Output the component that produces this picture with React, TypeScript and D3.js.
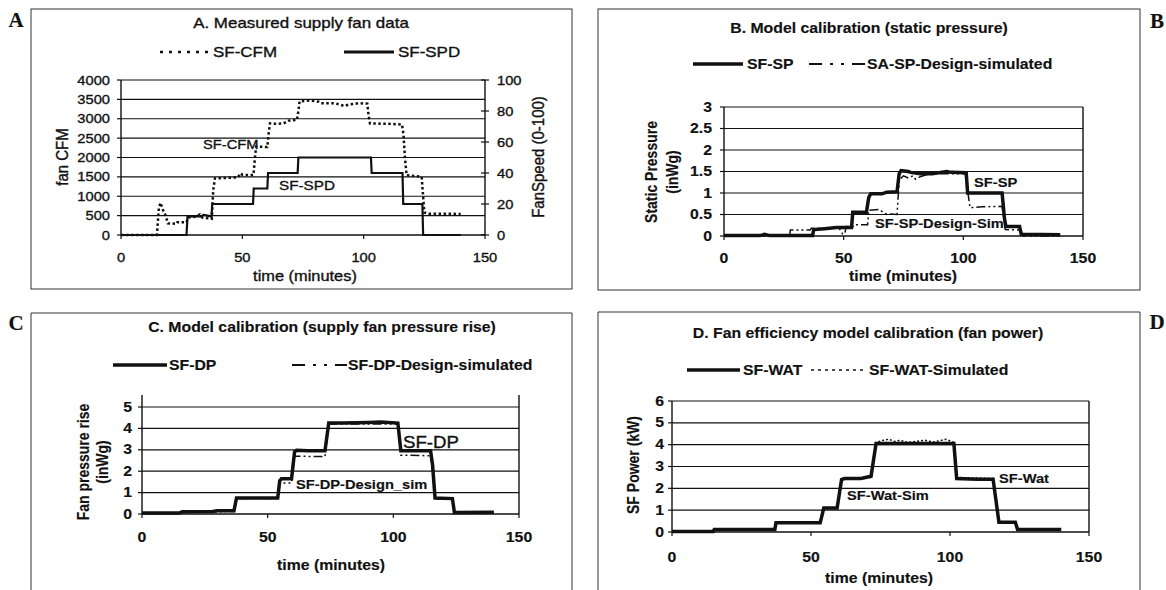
import React from 'react';
import * as d3 from 'd3';

const W = 1166;
const H = 590;
const FONT = 'Liberation Sans, Arial, sans-serif';

const xTicks = [0, 50, 100, 150];

// A. measured supply fan data
const cfmTicks = [0, 500, 1000, 1500, 2000, 2500, 3000, 3500, 4000];
const spdTicks = [0, 20, 40, 60, 80, 100];
const sfCfm: [number, number][] = [
  [0, 0], [14.8, 0], [15.6, 700], [16.3, 830], [17.2, 660], [18.3, 520], [19.3, 300], [23, 290],
  [23.3, 330], [27, 330], [27.6, 450], [31, 470], [32.5, 530], [33.5, 450], [37.4, 420], [38, 1150],
  [38.7, 1460], [43, 1470], [48.3, 1490], [49, 1590], [50.2, 1550], [54.6, 1550], [55.2, 2000],
  [55.7, 2280], [60.3, 2270], [60.8, 2600], [61.4, 2880], [64, 2870], [67, 2880], [69, 2950],
  [72.5, 2970], [73.1, 3200], [73.6, 3450], [78, 3470], [81.5, 3440], [82.5, 3400], [88, 3400],
  [90, 3370], [92, 3330], [94, 3370], [98, 3400], [101.5, 3390], [102, 3100], [102.6, 2880],
  [110, 2870], [115.8, 2850], [116.4, 2600], [117, 2000], [117.7, 1540], [121, 1520], [123.9, 1500],
  [124.5, 1000], [125, 580], [127, 550], [135, 550], [140, 540],
];
const sfSpd: [number, number][] = [
  [0, 0], [27, 0], [27.4, 12], [33, 12], [34, 13], [37.3, 12], [37.6, 20], [54.4, 20], [54.7, 30],
  [60.3, 30], [60.6, 40], [72.8, 40], [73.1, 50], [103, 50], [103.3, 40], [116, 40], [116.3, 20],
  [124.2, 20], [124.5, 0], [140, 0],
];

// B. static pressure
const spTicks = [0, 0.5, 1, 1.5, 2, 2.5, 3];
const sfSp: [number, number][] = [
  [0, 0.01], [15, 0.01], [17, 0.04], [19, 0.01], [37, 0.01], [37.5, 0.15], [42, 0.17], [47, 0.2],
  [53.3, 0.2], [53.8, 0.55], [59.5, 0.55], [60.5, 0.9], [61.3, 0.98], [66, 0.98], [68, 1.02],
  [72.3, 1.03], [73.2, 1.45], [74, 1.52], [77, 1.5], [78, 1.48], [82, 1.45], [87, 1.45], [93, 1.5],
  [95, 1.48], [101.2, 1.47], [101.8, 1.0], [110, 1.0], [116.2, 1.0], [117.2, 0.4], [117.8, 0.22],
  [123.5, 0.22], [124.2, 0.04], [140.5, 0.03],
];
const spSim: [number, number][] = [
  [0, 0], [27.5, 0], [27.7, 0.14], [36, 0.14], [36.5, 0.18], [48, 0.19], [49.5, 0.05], [50.5, 0.05],
  [51, 0.22], [54, 0.22], [54.5, 0.26], [60, 0.26], [60.5, 0.6], [65, 0.62], [67, 0.52], [72.3, 0.5],
  [73.2, 1.3], [75, 1.4], [77, 1.35], [79, 1.4], [80, 1.32], [82, 1.38], [86, 1.45], [100.8, 1.45],
  [102.8, 0.66], [108, 0.68], [116.2, 0.69], [117.5, 0.15], [124, 0.14], [125, 0], [140, 0],
];

// C. fan pressure rise
const dpTicks = [0, 1, 2, 3, 4, 5];
const sfDp: [number, number][] = [
  [0, 0.05], [15, 0.05], [16, 0.1], [28, 0.12], [30, 0.15], [36.6, 0.15], [37.6, 0.75], [54, 0.75],
  [54.8, 1.55], [55.5, 1.65], [59.5, 1.65], [60.7, 2.9], [61.5, 2.98], [66, 2.95], [72.8, 2.95],
  [74.3, 4.25], [80, 4.25], [90, 4.28], [95, 4.3], [101.8, 4.25], [103, 2.95], [110, 2.95],
  [114.8, 2.95], [115.6, 2.3], [116.6, 0.75], [123.5, 0.72], [124.3, 0.07], [140, 0.08],
];
const dpSim: [number, number][] = [
  [0, 0.03], [15, 0.03], [16, 0.08], [36.6, 0.12], [37.6, 0.72], [54, 0.72], [54.8, 1.45],
  [59.5, 1.45], [60.7, 2.7], [72.8, 2.68], [74.3, 4.2], [101.8, 4.2], [103, 2.75], [115, 2.72],
  [116.6, 0.7], [123.5, 0.7], [124.3, 0.05], [140, 0.05],
];

// D. fan power
const kwTicks = [0, 1, 2, 3, 4, 5, 6];
const sfWat: [number, number][] = [
  [0, 0.02], [14.8, 0.02], [15.2, 0.12], [37, 0.12], [37.4, 0.42], [53.3, 0.42], [54.6, 1.1],
  [59.4, 1.1], [61, 2.4], [62, 2.45], [68, 2.45], [71.6, 2.55], [73.4, 4.05], [101.4, 4.05],
  [102.4, 2.45], [110, 2.42], [115.5, 2.42], [117.6, 0.45], [123.5, 0.45], [124.3, 0.12], [140, 0.12],
];
const watSim: [number, number][] = [
  [0, 0.02], [14.8, 0.02], [15.2, 0.12], [37, 0.12], [37.4, 0.42], [53.3, 0.42], [54.6, 1.1],
  [59.4, 1.1], [61, 2.42], [71.6, 2.5], [73.4, 4.1], [76, 4.2], [78, 4.25], [80, 4.15], [82, 4.2],
  [85, 4.1], [88, 4.15], [91, 4.2], [94, 4.12], [97, 4.2], [98.5, 4.25], [101.4, 4.1], [102.4, 2.5],
  [115.5, 2.45], [117.6, 0.47], [123.5, 0.47], [124.3, 0.14], [140, 0.14],
];

const DASHDOT = '9,3,2,3,2,3';
const DASHDOT_KEY = '13,8,3,8,3,8';

// text looks horizontally stretched (and a bit heavy) in the scan
function Txt({ x, y, size = 13, anchor = 'start', weight = 'normal', rotate = false, sx = 1.13, family = FONT, children }: any) {
  const tr = rotate
    ? `translate(${x},${y}) scale(${sx},1) rotate(-90)`
    : `translate(${x},${y}) scale(${sx},1)`;
  return (
    <text transform={tr} fontSize={size} textAnchor={anchor} fontWeight={weight} fontFamily={family}
      fill="#111" stroke="#111" strokeWidth={weight === 'bold' ? 0.15 : 0.35}
      dominantBaseline={rotate ? 'central' : 'auto'}>
      {children}
    </text>
  );
}

function Axes({ x, y, yTicks, labelRight, xLabelY, size = 13, weight = 'normal', top }: any) {
  const [x0, x1] = x.range();
  const y0 = y(y.domain()[0]);
  const yTop = top ?? y.range()[1];
  return (
    <g>
      {yTicks.slice(1).map((t: number) => (
        <line key={'g' + t} x1={x0} x2={x1} y1={y(t)} y2={y(t)} stroke="#111" strokeWidth={1.2} />
      ))}
      <line x1={x0} x2={x0} y1={yTop} y2={y0} stroke="#111" strokeWidth={1.4} />
      <line x1={x1} x2={x1} y1={yTop} y2={y0} stroke="#111" strokeWidth={1.4} />
      <line x1={x0} x2={x1} y1={y0} y2={y0} stroke="#111" strokeWidth={1.7} />
      {yTicks.map((t: number) => (
        <g key={'y' + t}>
          <line x1={x0 - 4} x2={x0} y1={y(t)} y2={y(t)} stroke="#111" strokeWidth={1.2} />
          <Txt x={labelRight} y={y(t) + 4.5} anchor="end" size={size} weight={weight}>{t}</Txt>
        </g>
      ))}
      {xTicks.map((t) => (
        <g key={'x' + t}>
          <line x1={x(t)} x2={x(t)} y1={y0} y2={y0 + 4} stroke="#111" strokeWidth={1.2} />
          <Txt x={x(t)} y={xLabelY} anchor="middle" size={size} weight={weight}>{t}</Txt>
        </g>
      ))}
    </g>
  );
}

function pathOf(x: any, y: any, data: [number, number][]) {
  return d3.line<[number, number]>().x((d) => x(d[0])).y((d) => y(d[1]))(data) || '';
}

const SERIF = 'Liberation Serif, Times New Roman, serif';

function PanelA() {
  const x = d3.scaleLinear().domain([0, 150]).range([121, 485]);
  const y = d3.scaleLinear().domain([0, 4000]).range([235, 80]);
  const y2 = d3.scaleLinear().domain([0, 100]).range([235, 80]);
  return (
    <g>
      <rect x={31} y={9} width={541} height={280} fill="none" stroke="#333" strokeWidth={1} />
      <Txt x={16} y={27} size={21} weight="bold" sx={1} family={SERIF} anchor="middle">A</Txt>
      <Txt x={301} y={28} size={15} anchor="middle">A.  Measured supply fan data</Txt>
      <line x1={160} x2={210} y1={52} y2={52} stroke="#111" strokeWidth={2.5} strokeDasharray="3,6" />
      <Txt x={213} y={57} size={15}>SF-CFM</Txt>
      <line x1={344} x2={394} y1={52} y2={52} stroke="#111" strokeWidth={3} />
      <Txt x={398} y={57} size={15}>SF-SPD</Txt>
      <Axes x={x} y={y} yTicks={cfmTicks} labelRight={110} xLabelY={262} size={13} />
      {spdTicks.map((t) => (
        <g key={'r' + t}>
          <line x1={481} x2={489} y1={y2(t)} y2={y2(t)} stroke="#111" strokeWidth={1.2} />
          <Txt x={497} y={y2(t) + 4.5} size={13}>{t}</Txt>
        </g>
      ))}
      <path d={pathOf(x, y2, sfSpd)} fill="none" stroke="#111" strokeWidth={2.2} />
      <path d={pathOf(x, y, sfCfm)} fill="none" stroke="#111" strokeWidth={2.5} strokeDasharray="2.5,2.5" />
      <Txt x={203} y={149} size={13}>SF-CFM</Txt>
      <Txt x={279} y={190} size={13.5}>SF-SPD</Txt>
      <Txt x={305} y={281} size={14.5} anchor="middle">time (minutes)</Txt>
      <Txt x={62} y={157} size={15} rotate anchor="middle">fan CFM</Txt>
      <Txt x={538} y={157} size={15} rotate anchor="middle">FanSpeed (0-100)</Txt>
    </g>
  );
}

function PanelB() {
  const x = d3.scaleLinear().domain([0, 150]).range([724, 1083]);
  const y = d3.scaleLinear().domain([0, 3]).range([236, 107]);
  return (
    <g>
      <rect x={598} y={9} width={542} height={281} fill="none" stroke="#333" strokeWidth={1} />
      <Txt x={1157} y={28} size={21} weight="bold" sx={1} family={SERIF} anchor="middle">B</Txt>
      <Txt x={869} y={33} size={14} weight="bold" anchor="middle">B.  Model calibration (static pressure)</Txt>
      <line x1={693} x2={743} y1={64} y2={64} stroke="#111" strokeWidth={3.5} />
      <Txt x={747} y={69} size={14} weight="bold">SF-SP</Txt>
      <line x1={809} x2={866} y1={64} y2={64} stroke="#111" strokeWidth={1.8} strokeDasharray={DASHDOT_KEY} />
      <Txt x={867} y={69} size={14} weight="bold">SA-SP-Design-simulated</Txt>
      <Axes x={x} y={y} yTicks={spTicks} labelRight={712} xLabelY={263} size={14} weight="bold" />
      <path d={pathOf(x, y, spSim)} fill="none" stroke="#111" strokeWidth={1.5} strokeDasharray={DASHDOT} />
      <path d={pathOf(x, y, sfSp)} fill="none" stroke="#111" strokeWidth={3.5} />
      <Txt x={974} y={187} size={13} weight="bold">SF-SP</Txt>
      <Txt x={875} y={228} size={13} weight="bold">SF-SP-Design-Sim</Txt>
      <Txt x={903} y={281} size={14} weight="bold" anchor="middle">time (minutes)</Txt>
      <Txt x={651} y={172} size={14} weight="bold" rotate anchor="middle">Static Pressure</Txt>
      <Txt x={672} y={172} size={14} weight="bold" rotate anchor="middle">(inWg)</Txt>
    </g>
  );
}

function PanelC() {
  const x = d3.scaleLinear().domain([0, 150]).range([142, 519]);
  const y = d3.scaleLinear().domain([0, 5]).range([514, 407]);
  return (
    <g>
      <path d="M31,600 V313 H572 V600" fill="none" stroke="#333" strokeWidth={1} />
      <Txt x={16} y={330} size={21} weight="bold" sx={1} family={SERIF} anchor="middle">C</Txt>
      <Txt x={322} y={332} size={14} weight="bold" anchor="middle">C.  Model calibration (supply fan pressure rise)</Txt>
      <line x1={113} x2={167} y1={365} y2={365} stroke="#111" strokeWidth={3.5} />
      <Txt x={169} y={370} size={14} weight="bold">SF-DP</Txt>
      <line x1={292} x2={347} y1={365} y2={365} stroke="#111" strokeWidth={1.8} strokeDasharray={DASHDOT_KEY} />
      <Txt x={348} y={370} size={14} weight="bold">SF-DP-Design-simulated</Txt>
      <Axes x={x} y={y} yTicks={dpTicks} labelRight={132} xLabelY={542} size={14} weight="bold" top={395} />
      <path d={pathOf(x, y, dpSim)} fill="none" stroke="#111" strokeWidth={1.5} strokeDasharray={DASHDOT} />
      <path d={pathOf(x, y, sfDp)} fill="none" stroke="#111" strokeWidth={3.5} />
      <Txt x={403} y={448} size={16.5}>SF-DP</Txt>
      <Txt x={296} y={489} size={13} weight="bold">SF-DP-Design_sim</Txt>
      <Txt x={331} y={570} size={14} weight="bold" anchor="middle">time (minutes)</Txt>
      <Txt x={83} y={462} size={14} weight="bold" rotate anchor="middle">Fan pressure rise</Txt>
      <Txt x={102} y={462} size={14} weight="bold" rotate anchor="middle">(inWg)</Txt>
    </g>
  );
}

function PanelD() {
  const x = d3.scaleLinear().domain([0, 150]).range([672, 1089]);
  const y = d3.scaleLinear().domain([0, 6]).range([532, 401]);
  return (
    <g>
      <path d="M598,600 V312 H1140 V600" fill="none" stroke="#333" strokeWidth={1} />
      <Txt x={1157} y={329} size={21} weight="bold" sx={1} family={SERIF} anchor="middle">D</Txt>
      <Txt x={868} y={338} size={14} weight="bold" anchor="middle">D.  Fan efficiency model calibration (fan power)</Txt>
      <line x1={687} x2={740} y1={370} y2={370} stroke="#111" strokeWidth={3.5} />
      <Txt x={743} y={375} size={14} weight="bold">SF-WAT</Txt>
      <line x1={811} x2={865} y1={370} y2={370} stroke="#111" strokeWidth={1.5} strokeDasharray="3,4" />
      <Txt x={869} y={375} size={14} weight="bold">SF-WAT-Simulated</Txt>
      <Axes x={x} y={y} yTicks={kwTicks} labelRight={664} xLabelY={562} size={14} weight="bold" />
      <path d={pathOf(x, y, watSim)} fill="none" stroke="#111" strokeWidth={1.5} strokeDasharray="2,2" />
      <path d={pathOf(x, y, sfWat)} fill="none" stroke="#111" strokeWidth={3.5} />
      <Txt x={999} y={483} size={13} weight="bold">SF-Wat</Txt>
      <Txt x={847} y={500} size={13} weight="bold">SF-Wat-Sim</Txt>
      <Txt x={879} y={583} size={14} weight="bold" anchor="middle">time (minutes)</Txt>
      <Txt x={633} y={465} size={14} weight="bold" rotate anchor="middle">SF Power (kW)</Txt>
    </g>
  );
}

export default function App() {
  return (
    <div style={{ position: 'absolute', left: 0, top: 0 }}>
      <svg width={W} height={H} style={{ display: 'block', background: '#fff' }}>
        <PanelA />
        <PanelB />
        <PanelC />
        <PanelD />
      </svg>
    </div>
  );
}
